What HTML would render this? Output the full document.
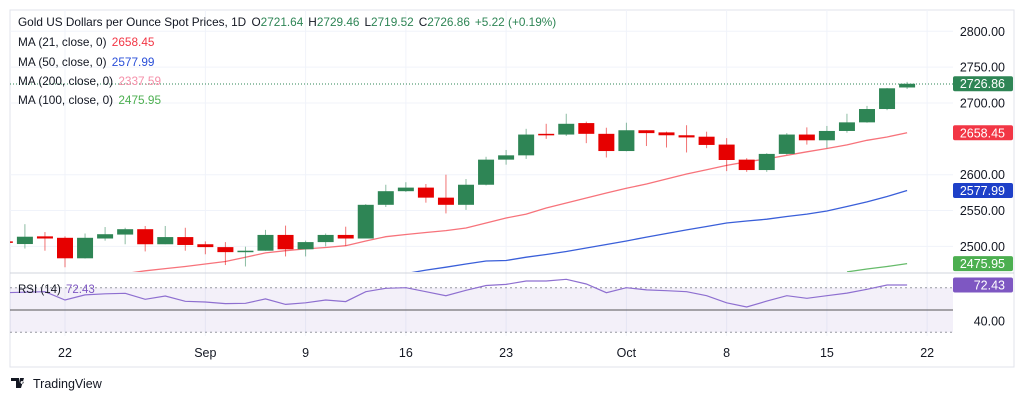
<!DOCTYPE html>
<html><head><meta charset="utf-8"><style>
html,body{margin:0;padding:0;background:#fff;}
svg{display:block;font-family:"Liberation Sans",sans-serif;}
</style></head><body>
<svg width="1024" height="402" viewBox="0 0 1024 402">
<defs>
<clipPath id="pc"><rect x="10" y="10" width="943" height="262"/></clipPath>
<clipPath id="rc"><rect x="10" y="274" width="943" height="62"/></clipPath>
</defs>
<rect x="10" y="10" width="1004" height="357" fill="#fff" stroke="#e0e3eb"/>
<g id="grid"></g>
<line x1="10" y1="84" x2="953" y2="84" stroke="#2e8555" stroke-dasharray="1,2" stroke-width="1"/>
<g id="ma" clip-path="url(#pc)"></g>
<g id="candles" clip-path="url(#pc)"></g>
<line x1="10" y1="273" x2="1014" y2="273" stroke="#d1d4dc"/>
<g id="rsi"></g>
<g id="yaxis"></g>
<g id="xaxis"></g>
<g font-size="11.8" fill="#131722">
<text x="18" y="26">Gold US Dollars per Ounce Spot Prices, 1D <tspan dx="2">O</tspan><tspan fill="#2e8555">2721.64</tspan><tspan dx="5">H</tspan><tspan fill="#2e8555">2729.46</tspan><tspan dx="5">L</tspan><tspan fill="#2e8555">2719.52</tspan><tspan dx="5">C</tspan><tspan fill="#2e8555">2726.86</tspan><tspan dx="5" fill="#2e8555">+5.22 (+0.19%)</tspan></text>
<text x="18" y="46">MA (21, close, 0) <tspan dx="2" fill="#f23645">2658.45</tspan></text>
<text x="18" y="66">MA (50, close, 0) <tspan dx="2" fill="#2a4fd8">2577.99</tspan></text>
<text x="18" y="85">MA (200, close, 0) <tspan dx="2" fill="#f58fa8">2337.59</tspan></text>
<text x="18" y="104">MA (100, close, 0) <tspan dx="2" fill="#4caf50">2475.95</tspan></text>
<text x="18" y="293" font-size="11.5">RSI (14) <tspan dx="2" fill="#7e57c2">72.43</tspan></text>
</g>
<g>
<path d="M11 378h8v10h-3v-7h-5z M20 378h4l-3 10h-3z M22 381a1.5 1.5 0 1 0 0.1 0z" fill="#131722"/>
<text x="33" y="388" font-size="12.5" fill="#131722">TradingView</text>
</g>
</svg>
<script>
const opens=[2507,2503.3,2514,2512,2483.4,2511,2516.5,2524,2503,2513,2503,2499,2492,2494,2516,2496,2506,2516,2511,2558,2577,2582,2568,2558,2586,2621,2627,2657,2656,2672,2657,2633,2662,2659,2655,2653,2642,2621,2606.5,2629,2656,2648,2661,2673,2691.6,2721.64];
const highs=[2510,2531,2520,2514,2518,2527,2526,2528.5,2528.5,2526,2507,2506,2499.6,2523,2529,2508,2518,2527.5,2559,2586,2589.5,2587,2600,2594,2625,2634.5,2664,2671,2685,2674,2665.5,2672.5,2662,2660,2669,2660,2651,2623,2630,2658,2666,2668,2685,2696,2721,2729.46];
const lows=[2503,2497,2494,2471,2483,2508,2503,2493,2503,2494,2489,2474,2472,2494,2486,2486,2500,2501,2511,2555,2576,2561,2546,2551,2585,2614,2622,2650,2654,2644,2624,2632.6,2640,2638,2631,2637,2605,2604,2604,2628,2642,2637,2658.6,2672.5,2690,2719.52];
const closes=[2505,2513.5,2511,2483.4,2512,2517,2524,2503,2513,2502,2499,2492,2494,2516,2496,2506,2516,2511,2558,2577,2582,2568,2558,2586,2621,2627,2656,2656,2671,2657,2633,2662,2658,2655,2652,2641.5,2620.5,2606.5,2629,2656,2648,2661,2673,2691.6,2720.5,2726.86];
const ma21=[null,null,null,null,null,null,2462,2466,2469,2472,2475.5,2479,2485,2491,2494,2496.5,2498.5,2501,2507.5,2513.5,2516.6,2519.4,2522,2525.7,2532.6,2539.6,2545,2553.6,2560.5,2567.5,2574.5,2581,2587,2594,2601,2607,2613,2618,2622,2627,2632,2636.5,2641.5,2648,2652.6,2658.45];
const ma50=[null,null,null,null,null,null,null,null,null,null,null,null,null,null,null,null,null,null,null,null,2462,2467,2471,2475.5,2479.6,2480.3,2485,2488.7,2492.9,2497.8,2502.6,2507.5,2513,2518,2523,2527.8,2532.6,2535.4,2538,2541.7,2545,2549.4,2555.6,2562,2569.6,2577.99];
const ma100=[null,null,null,null,null,null,null,null,null,null,null,null,null,null,null,null,null,null,null,null,null,null,null,null,null,null,null,null,null,null,null,null,null,null,null,null,null,null,null,null,null,null,2464.5,2468.5,2472,2475.95];
const rsiVals=[65.5,66,66.4,59,63.5,64.5,65,59.6,62.6,57.8,57.2,55.7,56,60,55,56.5,59,57.5,66.4,69.5,70,66.4,62.8,67.7,72,73,76,76,77.5,73.3,65.5,70,68,67.3,66.4,62.8,56.5,52.7,58,62.8,60.5,62.8,65.2,68.6,72.4,72.43];
const priceTicks=[2800,2750,2700,2600,2550,2500];
const rsiTicks=[40];
const dateLabels=["22","Sep","9","16","23","Oct","8","15","22"];
const dateIdx=[3,10,15,20,25,31,36,41,46];

const NS="http://www.w3.org/2000/svg";
function X(i){return 65+(i-3)*20.05;}
function Y(p){return 103+(2700-p)*0.717;}
function RY(v){return 310-(v-50)*1.115;}
function mk(tag,attrs,parent){const e=document.createElementNS(NS,tag);for(const k in attrs)e.setAttribute(k,attrs[k]);parent.appendChild(e);return e;}
const grid=document.getElementById('grid');
priceTicks.forEach(p=>{const l=mk('line',{x1:10,x2:953,y1:Y(p),y2:Y(p),stroke:'#f0f3fa'},grid);

});
dateIdx.forEach(i=>{const l=mk('line',{x1:X(i),x2:X(i),y1:10,y2:336,stroke:'#f0f3fa'},grid);

});

const cg=document.getElementById('candles');
for(let i=0;i<opens.length;i++){
 const up=closes[i]>=opens[i];const col=up?'#2e8555':'#e60000';const x=X(i);
 const w=mk('line',{x1:x,x2:x,y1:Y(highs[i]),y2:Y(lows[i]),stroke:col,'stroke-opacity':0.55,'stroke-width':1},cg);
 
 
 const t=Y(Math.max(opens[i],closes[i])),b=Y(Math.min(opens[i],closes[i]));
 const r=mk('rect',{x:x-8,y:t,width:16,height:Math.max(1.5,b-t),fill:col},cg);
 
 
}
const mg=document.getElementById('ma');
function line(arr,col,name){let d='';arr.forEach((v,i)=>{if(v==null)return;d+=(d?'L':'M')+X(i).toFixed(1)+','+Y(v).toFixed(1);});
 const p=mk('path',{d:d,fill:'none',stroke:col,'stroke-width':1.3},mg);
 
 }
line(ma21,'#f7737b','ma21-line');line(ma50,'#3a5fd9','ma50-line');line(ma100,'#66bb6a','ma100-line');

const rg=document.getElementById('rsi');
const band=mk('rect',{x:10,y:RY(70),width:943,height:RY(30)-RY(70),fill:'#7e57c2','fill-opacity':0.09},rg);


[70,30].forEach(v=>{const l=mk('line',{x1:10,x2:953,y1:RY(v),y2:RY(v),stroke:'#9598a1','stroke-dasharray':'2,3'},rg);

});
const mid=mk('line',{x1:10,x2:953,y1:RY(50),y2:RY(50),stroke:'#555'},rg);


let rd='';rsiVals.forEach((v,i)=>{rd+=(i?'L':'M')+X(i).toFixed(1)+','+RY(v).toFixed(1);});
const rp=mk('path',{d:rd,fill:'none',stroke:'#8e6fd0','stroke-width':1.2,'clip-path':'url(#rc)'},rg);



const ya=document.getElementById('yaxis');
priceTicks.forEach(p=>{const t=mk('text',{x:1005,y:Y(p)+4.5,'text-anchor':'end','font-size':12.5,fill:'#131722'},ya);t.textContent=p.toFixed(2);

});
rsiTicks.forEach(v=>{const t=mk('text',{x:1005,y:RY(v)+4.5,'text-anchor':'end','font-size':12.5,fill:'#131722'},ya);t.textContent=v.toFixed(2);

});
function box(y,val,col,name){const r=mk('rect',{x:953,y:y-7.5,width:60,height:15,rx:2,fill:col},ya);
 
 
 const t=mk('text',{x:1005,y:y+4.5,'text-anchor':'end','font-size':12.5,fill:'#fff'},ya);t.textContent=val;
 
 }
box(Y(2726.86),'2726.86','#2e8555','last-price');
box(Y(2658.45),'2658.45','#f23645','ma21-value');
box(Y(2577.99),'2577.99','#1e40c8','ma50-value');
box(Y(2475.95),'2475.95','#4caf50','ma100-value');
box(RY(72.43),'72.43','#7e57c2','rsi-value');

const xa=document.getElementById('xaxis');
dateLabels.forEach((s,k)=>{const t=mk('text',{x:X(dateIdx[k]),y:357,'text-anchor':'middle','font-size':12.5,fill:'#131722'},xa);t.textContent=s;

});
</script>
</body></html>
